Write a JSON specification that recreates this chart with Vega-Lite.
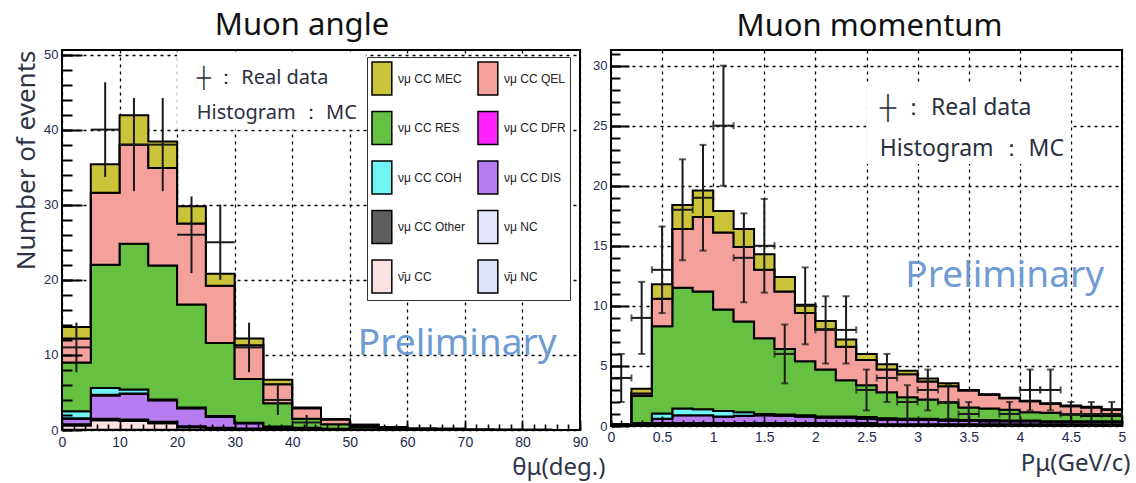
{
  "$schema": "https://vega.github.io/schema/vega-lite/v6.json",
  "padding": {"left": 12, "top": 8, "right": 5, "bottom": 5},
  "bounds": "flush",
  "spacing": 31,
  "config": {
    "view": {"stroke": "black", "strokeWidth": 2},
    "axis": {
      "domain": false,
      "labelFont": "Liberation Sans",
      "labelColor": "#1e2a50",
      "tickColor": "black",
      "tickWidth": 1.6,
      "gridColor": "black",
      "gridDash": [3, 4],
      "gridWidth": 1.3,
      "titleFont": "Noto Sans",
      "titleFontWeight": "normal",
      "titleColor": "#2e3548",
      "labelOverlap": false,
      "labelFlush": false
    }
  },
  "datasets": {
    "angleHist": [
      {"x": 0, "0ν̄μ NC": 0.05, "1ν̄μ CC": 0.55, "2νμ NC": 0.1, "3νμ CC Other": 0.05, "4νμ CC DIS": 0.75, "5νμ CC DFR": 0.05, "6νμ CC COH": 0.95, "7νμ CC RES": 6.5, "8νμ CC QEL": 3.2, "9νμ CC MEC": 1.5},
      {"x": 5, "0ν̄μ NC": 0.05, "1ν̄μ CC": 1.25, "2νμ NC": 0.1, "3νμ CC Other": 0.1, "4νμ CC DIS": 3.1, "5νμ CC DFR": 0.1, "6νμ CC COH": 0.9, "7νμ CC RES": 16.4, "8νμ CC QEL": 9.6, "9νμ CC MEC": 3.8},
      {"x": 10, "0ν̄μ NC": 0.05, "1ν̄μ CC": 1.15, "2νμ NC": 0.1, "3νμ CC Other": 0.1, "4νμ CC DIS": 3.4, "5νμ CC DFR": 0.05, "6νμ CC COH": 0.55, "7νμ CC RES": 19.4, "8νμ CC QEL": 13.2, "9νμ CC MEC": 3.9},
      {"x": 15, "0ν̄μ NC": 0.05, "1ν̄μ CC": 0.85, "2νμ NC": 0.1, "3νμ CC Other": 0.1, "4νμ CC DIS": 2.85, "5νμ CC DFR": 0, "6νμ CC COH": 0.1, "7νμ CC RES": 17.85, "8νμ CC QEL": 13.0, "9νμ CC MEC": 3.5},
      {"x": 20, "0ν̄μ NC": 0.02, "1ν̄μ CC": 0.35, "2νμ NC": 0.08, "3νμ CC Other": 0.05, "4νμ CC DIS": 2.4, "5νμ CC DFR": 0, "6νμ CC COH": 0.1, "7νμ CC RES": 13.7, "8νμ CC QEL": 10.8, "9νμ CC MEC": 2.3},
      {"x": 25, "0ν̄μ NC": 0.02, "1ν̄μ CC": 0.18, "2νμ NC": 0.05, "3νμ CC Other": 0.05, "4νμ CC DIS": 1.45, "5νμ CC DFR": 0, "6νμ CC COH": 0.1, "7νμ CC RES": 9.75, "8νμ CC QEL": 7.6, "9νμ CC MEC": 1.6},
      {"x": 30, "0ν̄μ NC": 0, "1ν̄μ CC": 0.1, "2νμ NC": 0.05, "3νμ CC Other": 0.05, "4νμ CC DIS": 0.7, "5νμ CC DFR": 0, "6νμ CC COH": 0.05, "7νμ CC RES": 5.85, "8νμ CC QEL": 4.5, "9νμ CC MEC": 0.9},
      {"x": 35, "0ν̄μ NC": 0, "1ν̄μ CC": 0.05, "2νμ NC": 0.05, "3νμ CC Other": 0.05, "4νμ CC DIS": 0.25, "5νμ CC DFR": 0, "6νμ CC COH": 0.05, "7νμ CC RES": 3.1, "8νμ CC QEL": 2.55, "9νμ CC MEC": 0.6},
      {"x": 40, "0ν̄μ NC": 0, "1ν̄μ CC": 0.03, "2νμ NC": 0.1, "3νμ CC Other": 0.05, "4νμ CC DIS": 0.1, "5νμ CC DFR": 0, "6νμ CC COH": 0.02, "7νμ CC RES": 1.2, "8νμ CC QEL": 1.4, "9νμ CC MEC": 0.1},
      {"x": 45, "0ν̄μ NC": 0, "1ν̄μ CC": 0.02, "2νμ NC": 0.05, "3νμ CC Other": 0.03, "4νμ CC DIS": 0.05, "5νμ CC DFR": 0, "6νμ CC COH": 0, "7νμ CC RES": 0.6, "8νμ CC QEL": 0.65, "9νμ CC MEC": 0.05},
      {"x": 50, "0ν̄μ NC": 0, "1ν̄μ CC": 0.01, "2νμ NC": 0.04, "3νμ CC Other": 0.02, "4νμ CC DIS": 0.03, "5νμ CC DFR": 0, "6νμ CC COH": 0, "7νμ CC RES": 0.3, "8νμ CC QEL": 0.3, "9νμ CC MEC": 0},
      {"x": 55, "0ν̄μ NC": 0, "1ν̄μ CC": 0, "2νμ NC": 0.03, "3νμ CC Other": 0.01, "4νμ CC DIS": 0.01, "5νμ CC DFR": 0, "6νμ CC COH": 0, "7νμ CC RES": 0.2, "8νμ CC QEL": 0.15, "9νμ CC MEC": 0},
      {"x": 60, "0ν̄μ NC": 0, "1ν̄μ CC": 0, "2νμ NC": 0.02, "3νμ CC Other": 0, "4νμ CC DIS": 0, "5νμ CC DFR": 0, "6νμ CC COH": 0, "7νμ CC RES": 0.1, "8νμ CC QEL": 0.08, "9νμ CC MEC": 0},
      {"x": 65, "0ν̄μ NC": 0, "1ν̄μ CC": 0, "2νμ NC": 0.01, "3νμ CC Other": 0, "4νμ CC DIS": 0, "5νμ CC DFR": 0, "6νμ CC COH": 0, "7νμ CC RES": 0.07, "8νμ CC QEL": 0.07, "9νμ CC MEC": 0},
      {"x": 70, "0ν̄μ NC": 0, "1ν̄μ CC": 0, "2νμ NC": 0, "3νμ CC Other": 0, "4νμ CC DIS": 0, "5νμ CC DFR": 0, "6νμ CC COH": 0, "7νμ CC RES": 0.04, "8νμ CC QEL": 0.04, "9νμ CC MEC": 0},
      {"x": 75, "0ν̄μ NC": 0, "1ν̄μ CC": 0, "2νμ NC": 0, "3νμ CC Other": 0, "4νμ CC DIS": 0, "5νμ CC DFR": 0, "6νμ CC COH": 0, "7νμ CC RES": 0.02, "8νμ CC QEL": 0.02, "9νμ CC MEC": 0},
      {"x": 80, "0ν̄μ NC": 0, "1ν̄μ CC": 0, "2νμ NC": 0, "3νμ CC Other": 0, "4νμ CC DIS": 0, "5νμ CC DFR": 0, "6νμ CC COH": 0, "7νμ CC RES": 0.01, "8νμ CC QEL": 0.01, "9νμ CC MEC": 0},
      {"x": 85, "0ν̄μ NC": 0, "1ν̄μ CC": 0, "2νμ NC": 0, "3νμ CC Other": 0, "4νμ CC DIS": 0, "5νμ CC DFR": 0, "6νμ CC COH": 0, "7νμ CC RES": 0, "8νμ CC QEL": 0, "9νμ CC MEC": 0},
      {"x": 90, "0ν̄μ NC": 0, "1ν̄μ CC": 0, "2νμ NC": 0, "3νμ CC Other": 0, "4νμ CC DIS": 0, "5νμ CC DFR": 0, "6νμ CC COH": 0, "7νμ CC RES": 0, "8νμ CC QEL": 0, "9νμ CC MEC": 0}
    ],
    "angleData": [
      {"c": 2.5, "x0": 0, "x1": 5, "n": 11, "lo": 7.7, "hi": 14.3},
      {"c": 7.5, "x0": 5, "x1": 10, "n": 40, "lo": 33.7, "hi": 46.3},
      {"c": 12.5, "x0": 10, "x1": 15, "n": 38, "lo": 31.8, "hi": 44.2},
      {"c": 17.5, "x0": 15, "x1": 20, "n": 38, "lo": 31.8, "hi": 44.2},
      {"c": 22.5, "x0": 20, "x1": 25, "n": 26, "lo": 20.9, "hi": 31.1},
      {"c": 27.5, "x0": 25, "x1": 30, "n": 25, "lo": 20, "hi": 30},
      {"c": 32.5, "x0": 30, "x1": 35, "n": 11, "lo": 7.7, "hi": 14.3},
      {"c": 37.5, "x0": 35, "x1": 40, "n": 4, "lo": 2, "hi": 6},
      {"c": 42.5, "x0": 40, "x1": 45, "n": 1, "lo": 0, "hi": 2}
    ],
    "momHist": [
      {"x": 0, "0ν̄μ NC": 0, "1ν̄μ CC": 0.02, "2νμ NC": 0.02, "3νμ CC Other": 0.05, "4νμ CC DIS": 0.02, "5νμ CC DFR": 0, "6νμ CC COH": 0, "7νμ CC RES": 0.03, "8νμ CC QEL": 0, "9νμ CC MEC": 0},
      {"x": 0.2, "0ν̄μ NC": 0.01, "1ν̄μ CC": 0.02, "2νμ NC": 0.02, "3νμ CC Other": 0.1, "4νμ CC DIS": 0.05, "5νμ CC DFR": 0, "6νμ CC COH": 0.05, "7νμ CC RES": 2.25, "8νμ CC QEL": 0.2, "9νμ CC MEC": 0.4},
      {"x": 0.4, "0ν̄μ NC": 0.02, "1ν̄μ CC": 0.1, "2νμ NC": 0.08, "3νμ CC Other": 0.05, "4νμ CC DIS": 0.35, "5νμ CC DFR": 0, "6νμ CC COH": 0.45, "7νμ CC RES": 7.25, "8νμ CC QEL": 2.3, "9νμ CC MEC": 1.2},
      {"x": 0.6, "0ν̄μ NC": 0.02, "1ν̄μ CC": 0.1, "2νμ NC": 0.08, "3νμ CC Other": 0.05, "4νμ CC DIS": 0.65, "5νμ CC DFR": 0, "6νμ CC COH": 0.55, "7νμ CC RES": 10.05, "8νμ CC QEL": 4.9, "9νμ CC MEC": 2.0},
      {"x": 0.8, "0ν̄μ NC": 0.02, "1ν̄μ CC": 0.1, "2νμ NC": 0.08, "3νμ CC Other": 0.05, "4νμ CC DIS": 0.65, "5νμ CC DFR": 0, "6νμ CC COH": 0.5, "7νμ CC RES": 9.8, "8νμ CC QEL": 6.2, "9νμ CC MEC": 2.2},
      {"x": 1.0, "0ν̄μ NC": 0.02, "1ν̄μ CC": 0.1, "2νμ NC": 0.08, "3νμ CC Other": 0.05, "4νμ CC DIS": 0.55, "5νμ CC DFR": 0, "6νμ CC COH": 0.45, "7νμ CC RES": 8.45, "8νμ CC QEL": 6.4, "9νμ CC MEC": 1.8},
      {"x": 1.2, "0ν̄μ NC": 0.02, "1ν̄μ CC": 0.1, "2νμ NC": 0.08, "3νμ CC Other": 0.05, "4νμ CC DIS": 0.6, "5νμ CC DFR": 0, "6νμ CC COH": 0.3, "7νμ CC RES": 7.55, "8νμ CC QEL": 6.2, "9νμ CC MEC": 1.5},
      {"x": 1.4, "0ν̄μ NC": 0.02, "1ν̄μ CC": 0.1, "2νμ NC": 0.08, "3νμ CC Other": 0.05, "4νμ CC DIS": 0.65, "5νμ CC DFR": 0, "6νμ CC COH": 0.1, "7νμ CC RES": 6.3, "8νμ CC QEL": 5.7, "9νμ CC MEC": 1.3},
      {"x": 1.6, "0ν̄μ NC": 0.02, "1ν̄μ CC": 0.1, "2νμ NC": 0.08, "3νμ CC Other": 0.05, "4νμ CC DIS": 0.6, "5νμ CC DFR": 0, "6νμ CC COH": 0.1, "7νμ CC RES": 5.45, "8νμ CC QEL": 4.8, "9νμ CC MEC": 1.2},
      {"x": 1.8, "0ν̄μ NC": 0.02, "1ν̄μ CC": 0.1, "2νμ NC": 0.08, "3νμ CC Other": 0.05, "4νμ CC DIS": 0.55, "5νμ CC DFR": 0, "6νμ CC COH": 0.1, "7νμ CC RES": 4.5, "8νμ CC QEL": 4.0, "9νμ CC MEC": 0.7},
      {"x": 2.0, "0ν̄μ NC": 0.02, "1ν̄μ CC": 0.1, "2νμ NC": 0.08, "3νμ CC Other": 0.05, "4νμ CC DIS": 0.45, "5νμ CC DFR": 0, "6νμ CC COH": 0.1, "7νμ CC RES": 3.9, "8νμ CC QEL": 3.35, "9νμ CC MEC": 0.7},
      {"x": 2.2, "0ν̄μ NC": 0.02, "1ν̄μ CC": 0.1, "2νμ NC": 0.08, "3νμ CC Other": 0.05, "4νμ CC DIS": 0.45, "5νμ CC DFR": 0, "6νμ CC COH": 0.1, "7νμ CC RES": 3.0, "8νμ CC QEL": 2.8, "9νμ CC MEC": 0.6},
      {"x": 2.4, "0ν̄μ NC": 0.02, "1ν̄μ CC": 0.1, "2νμ NC": 0.08, "3νμ CC Other": 0.05, "4νμ CC DIS": 0.35, "5νμ CC DFR": 0, "6νμ CC COH": 0.15, "7νμ CC RES": 2.65, "8νμ CC QEL": 2.1, "9νμ CC MEC": 0.5},
      {"x": 2.6, "0ν̄μ NC": 0.01, "1ν̄μ CC": 0.05, "2νμ NC": 0.06, "3νμ CC Other": 0.03, "4νμ CC DIS": 0.4, "5νμ CC DFR": 0, "6νμ CC COH": 0.1, "7νμ CC RES": 2.15, "8νμ CC QEL": 1.9, "9νμ CC MEC": 0.45},
      {"x": 2.8, "0ν̄μ NC": 0.01, "1ν̄μ CC": 0.05, "2νμ NC": 0.06, "3νμ CC Other": 0.03, "4νμ CC DIS": 0.35, "5νμ CC DFR": 0, "6νμ CC COH": 0.1, "7νμ CC RES": 1.8, "8νμ CC QEL": 1.9, "9νμ CC MEC": 0.3},
      {"x": 3.0, "0ν̄μ NC": 0.01, "1ν̄μ CC": 0.05, "2νμ NC": 0.06, "3νμ CC Other": 0.03, "4νμ CC DIS": 0.35, "5νμ CC DFR": 0, "6νμ CC COH": 0.1, "7νμ CC RES": 1.6, "8νμ CC QEL": 1.5, "9νμ CC MEC": 0.25},
      {"x": 3.2, "0ν̄μ NC": 0.01, "1ν̄μ CC": 0.05, "2νμ NC": 0.06, "3νμ CC Other": 0.03, "4νμ CC DIS": 0.3, "5νμ CC DFR": 0, "6νμ CC COH": 0.1, "7νμ CC RES": 1.4, "8νμ CC QEL": 1.35, "9νμ CC MEC": 0.25},
      {"x": 3.4, "0ν̄μ NC": 0.01, "1ν̄μ CC": 0.05, "2νμ NC": 0.06, "3νμ CC Other": 0.03, "4νμ CC DIS": 0.3, "5νμ CC DFR": 0, "6νμ CC COH": 0.05, "7νμ CC RES": 1.05, "8νμ CC QEL": 1.4, "9νμ CC MEC": 0.05},
      {"x": 3.6, "0ν̄μ NC": 0.01, "1ν̄μ CC": 0.05, "2νμ NC": 0.06, "3νμ CC Other": 0.03, "4νμ CC DIS": 0.25, "5νμ CC DFR": 0, "6νμ CC COH": 0.1, "7νμ CC RES": 0.95, "8νμ CC QEL": 1.15, "9νμ CC MEC": 0.05},
      {"x": 3.8, "0ν̄μ NC": 0.01, "1ν̄μ CC": 0.05, "2νμ NC": 0.06, "3νμ CC Other": 0.03, "4νμ CC DIS": 0.25, "5νμ CC DFR": 0, "6νμ CC COH": 0.05, "7νμ CC RES": 0.9, "8νμ CC QEL": 0.95, "9νμ CC MEC": 0.05},
      {"x": 4.0, "0ν̄μ NC": 0.01, "1ν̄μ CC": 0.05, "2νμ NC": 0.06, "3νμ CC Other": 0.03, "4νμ CC DIS": 0.25, "5νμ CC DFR": 0, "6νμ CC COH": 0.05, "7νμ CC RES": 0.7, "8νμ CC QEL": 0.9, "9νμ CC MEC": 0.05},
      {"x": 4.2, "0ν̄μ NC": 0.01, "1ν̄μ CC": 0.05, "2νμ NC": 0.06, "3νμ CC Other": 0.03, "4νμ CC DIS": 0.2, "5νμ CC DFR": 0, "6νμ CC COH": 0.05, "7νμ CC RES": 0.7, "8νμ CC QEL": 0.75, "9νμ CC MEC": 0.05},
      {"x": 4.4, "0ν̄μ NC": 0.01, "1ν̄μ CC": 0.05, "2νμ NC": 0.06, "3νμ CC Other": 0.03, "4νμ CC DIS": 0.2, "5νμ CC DFR": 0, "6νμ CC COH": 0.05, "7νμ CC RES": 0.55, "8νμ CC QEL": 0.7, "9νμ CC MEC": 0.05},
      {"x": 4.6, "0ν̄μ NC": 0.01, "1ν̄μ CC": 0.05, "2νμ NC": 0.06, "3νμ CC Other": 0.03, "4νμ CC DIS": 0.2, "5νμ CC DFR": 0, "6νμ CC COH": 0.05, "7νμ CC RES": 0.45, "8νμ CC QEL": 0.7, "9νμ CC MEC": 0.05},
      {"x": 4.8, "0ν̄μ NC": 0.01, "1ν̄μ CC": 0.05, "2νμ NC": 0.06, "3νμ CC Other": 0.03, "4νμ CC DIS": 0.2, "5νμ CC DFR": 0, "6νμ CC COH": 0.05, "7νμ CC RES": 0.45, "8νμ CC QEL": 0.5, "9νμ CC MEC": 0.05},
      {"x": 5.0, "0ν̄μ NC": 0.01, "1ν̄μ CC": 0.05, "2νμ NC": 0.06, "3νμ CC Other": 0.03, "4νμ CC DIS": 0.2, "5νμ CC DFR": 0, "6νμ CC COH": 0.05, "7νμ CC RES": 0.45, "8νμ CC QEL": 0.5, "9νμ CC MEC": 0.05}
    ],
    "momData": [
      {"c": 0.1, "x0": 0.0, "x1": 0.2, "n": 4, "lo": 2, "hi": 6},
      {"c": 0.3, "x0": 0.2, "x1": 0.4, "n": 9, "lo": 6, "hi": 12},
      {"c": 0.5, "x0": 0.4, "x1": 0.6, "n": 13, "lo": 9.4, "hi": 16.6},
      {"c": 0.7, "x0": 0.6, "x1": 0.8, "n": 18, "lo": 13.8, "hi": 22.2},
      {"c": 0.9, "x0": 0.8, "x1": 1.0, "n": 19, "lo": 14.6, "hi": 23.4},
      {"c": 1.1, "x0": 1.0, "x1": 1.2, "n": 25, "lo": 20, "hi": 30},
      {"c": 1.3, "x0": 1.2, "x1": 1.4, "n": 14, "lo": 10.3, "hi": 17.7},
      {"c": 1.5, "x0": 1.4, "x1": 1.6, "n": 15, "lo": 11.1, "hi": 18.9},
      {"c": 1.7, "x0": 1.6, "x1": 1.8, "n": 6, "lo": 3.55, "hi": 8.45},
      {"c": 1.9, "x0": 1.8, "x1": 2.0, "n": 10, "lo": 6.8, "hi": 13.2},
      {"c": 2.1, "x0": 2.0, "x1": 2.2, "n": 8, "lo": 5.2, "hi": 10.8},
      {"c": 2.3, "x0": 2.2, "x1": 2.4, "n": 8, "lo": 5.2, "hi": 10.8},
      {"c": 2.5, "x0": 2.4, "x1": 2.6, "n": 3, "lo": 1.3, "hi": 4.7},
      {"c": 2.7, "x0": 2.6, "x1": 2.8, "n": 4, "lo": 2, "hi": 6},
      {"c": 2.9, "x0": 2.8, "x1": 3.0, "n": 2, "lo": 0.6, "hi": 3.4},
      {"c": 3.1, "x0": 3.0, "x1": 3.2, "n": 3, "lo": 1.3, "hi": 4.7},
      {"c": 3.3, "x0": 3.2, "x1": 3.4, "n": 2, "lo": 0.6, "hi": 3.4},
      {"c": 3.5, "x0": 3.4, "x1": 3.6, "n": 1, "lo": 0, "hi": 2},
      {"c": 3.9, "x0": 3.8, "x1": 4.0, "n": 1, "lo": 0, "hi": 2},
      {"c": 4.1, "x0": 4.0, "x1": 4.2, "n": 3, "lo": 1.3, "hi": 4.7},
      {"c": 4.3, "x0": 4.2, "x1": 4.4, "n": 3, "lo": 1.3, "hi": 4.7},
      {"c": 4.5, "x0": 4.4, "x1": 4.6, "n": 1, "lo": 0, "hi": 2},
      {"c": 4.7, "x0": 4.6, "x1": 4.8, "n": 1, "lo": 0, "hi": 2},
      {"c": 4.9, "x0": 4.8, "x1": 5.0, "n": 1, "lo": 0, "hi": 2}
    ]
  },
  "resolve": {"scale": {"color": "independent"}, "legend": {"color": "independent"}},
  "hconcat": [
    {
      "width": 518,
      "height": 380,
      "title": {"text": "Muon angle", "font": "Noto Sans", "fontSize": 31, "fontWeight": "normal", "color": "#111111", "offset": -17, "baseline": "alphabetic", "dx": -19},
      "resolve": {"scale": {"x": "independent", "y": "independent"}},
      "layer": [
        {
          "data": {"values": [{}]},
          "mark": {"type": "rect", "fill": "white"},
          "encoding": {
            "x": {"datum": 20, "type": "quantitative", "scale": {"domain": [0, 90], "nice": false, "zero": false},
              "axis": {"orient": "bottom", "values": [0,10,20,30,40,50,60,70,80,90], "grid": true, "ticks": false, "labels": false, "domain": false, "title": null, "zindex": 0}},
            "x2": {"datum": 52.8},
            "y": {"datum": 40, "type": "quantitative", "scale": {"domain": [0, 50.6], "nice": false, "zero": false},
              "axis": {"orient": "left", "values": [0,10,20,30,40,50], "grid": true, "ticks": false, "labels": false, "domain": false, "title": null, "zindex": 0}},
            "y2": {"datum": 50.4}
          }
        },
        {
          "data": {"values": [{}]},
          "mark": {"type": "point", "opacity": 0},
          "encoding": {
            "x": {"datum": 0, "type": "quantitative", "scale": {"domain": [0, 90], "nice": false, "zero": false},
              "axis": {"orient": "bottom", "values": [0,2,4,6,8,10,12,14,16,18,20,22,24,26,28,30,32,34,36,38,40,42,44,46,48,50,52,54,56,58,60,62,64,66,68,70,72,74,76,78,80,82,84,86,88,90], "grid": false, "ticks": true, "tickSize": -6, "tickWidth": 1.6, "labels": false, "domain": false, "title": null, "zindex": 1}},
            "y": {"datum": 0, "type": "quantitative", "scale": {"domain": [0, 50.6], "nice": false, "zero": false},
              "axis": {"orient": "left", "values": [0,2,4,6,8,10,12,14,16,18,20,22,24,26,28,30,32,34,36,38,40,42,44,46,48,50], "grid": false, "ticks": true, "tickSize": -10, "tickWidth": 2, "labels": false, "domain": false, "title": null, "zindex": 1}}
          }
        },
        {
          "layer": [
            {
              "data": {"name": "angleHist"},
              "transform": [{"fold": ["0ν̄μ NC", "1ν̄μ CC", "2νμ NC", "3νμ CC Other", "4νμ CC DIS", "5νμ CC DFR", "6νμ CC COH", "7νμ CC RES", "8νμ CC QEL", "9νμ CC MEC"], "as": ["cat", "v"]}],
              "mark": {"type": "area", "interpolate": "step-after", "stroke": "black", "strokeWidth": 2, "opacity": 1, "fillOpacity": 1},
              "encoding": {
                "x": {
                  "field": "x", "type": "quantitative",
                  "scale": {"domain": [0, 90], "nice": false, "zero": false},
                  "axis": {
                    "orient": "bottom",
                    "values": [0,10,20,30,40,50,60,70,80,90],
                    "format": "~g",
                    "grid": false,
                    "tickSize": -10,
                    "tickWidth": 1.6,
                    "labelPadding": 15,
                    "labelFontSize": 14,
                    "labelOverlap": false,
                    "zindex": 1,
                    "title": "θμ(deg.)",
                    "titleFontSize": 24,
                    "titleAnchor": "end",
                    "titleAlign": "right",
                    "titleBaseline": "alphabetic",
                    "titleX": 543,
                    "titleY": 44
                  }
                },
                "y": {
                  "field": "v", "type": "quantitative", "stack": "zero",
                  "scale": {"domain": [0, 50.6], "nice": false},
                  "axis": {
                    "orient": "left",
                    "values": [0,10,20,30,40,50],
                    "grid": false,
                    "tickSize": -20,
                    "tickWidth": 2,
                    "labelPadding": 24,
                    "labelFontSize": 13,
                    "labelOverlap": false,
                    "zindex": 1,
                    "title": "Number of events",
                    "titleFontSize": 26,
                    "titleAnchor": "end",
                    "titlePadding": 4
                  }
                },
                "color": {
                  "field": "cat", "type": "nominal",
                  "scale": {
                    "domain": ["9νμ CC MEC", "8νμ CC QEL", "7νμ CC RES", "5νμ CC DFR", "6νμ CC COH", "4νμ CC DIS", "3νμ CC Other", "2νμ NC", "1ν̄μ CC", "0ν̄μ NC"],
                    "range": ["#cbc43b", "#f4a19c", "#66c143", "#ff22ff", "#70f5f5", "#b77cf0", "#5e5e5e", "#e4e6fb", "#fbe2e2", "#dfe3fa"]
                  },
                  "legend": {
                    "orient": "none",
                    "legendX": 305,
                    "legendY": 7,
                    "direction": "horizontal",
                    "columns": 2,
                    "title": null,
                    "labelExpr": "substring(datum.label, 1)",
                    "symbolType": "M-1,-1H0.2V1H-1Z",
                    "symbolSize": 1089,
                    "symbolStrokeColor": "black",
                    "symbolStrokeWidth": 1.5,
                    "symbolOpacity": 1,
                    "labelFont": "Liberation Sans",
                    "labelFontSize": 12,
                    "labelColor": "#222222",
                    "labelOffset": -8,
                    "labelLimit": 140,
                    "rowPadding": 10.5,
                    "columnPadding": 10,
                    "padding": 4,
                    "strokeColor": "#333333",
                    "fillColor": "white"
                  }
                },
                "order": {"field": "cat", "sort": "ascending"}
              }
            },
            {
              "data": {"name": "angleData"},
              "mark": {"type": "rule", "color": "#1a1a1a", "strokeWidth": 2},
              "encoding": {
                "x": {"field": "c", "type": "quantitative", "title": "θμ(deg.)"},
                "y": {"field": "lo", "type": "quantitative", "title": "Number of events"},
                "y2": {"field": "hi"}
              }
            },
            {
              "data": {"name": "angleData"},
              "mark": {"type": "rule", "color": "#1a1a1a", "strokeWidth": 2},
              "encoding": {
                "x": {"field": "x0", "type": "quantitative", "title": "θμ(deg.)"},
                "x2": {"field": "x1"},
                "y": {"field": "n", "type": "quantitative", "title": "Number of events"}
              }
            },
            {
              "data": {"values": [{}]},
              "mark": {"type": "text", "text": "┼ ： Real data", "align": "left", "baseline": "alphabetic", "font": "Noto Sans", "fontSize": 20, "color": "#2a3040"},
              "encoding": {"x": {"datum": 23.4, "type": "quantitative"}, "y": {"datum": 46.1, "type": "quantitative"}}
            },
            {
              "data": {"values": [{}]},
              "mark": {"type": "text", "text": "Histogram ： MC", "align": "left", "baseline": "alphabetic", "font": "Noto Sans", "fontSize": 20, "color": "#2a3040"},
              "encoding": {"x": {"datum": 23.4, "type": "quantitative"}, "y": {"datum": 41.4, "type": "quantitative"}}
            },
            {
              "data": {"values": [{}]},
              "mark": {"type": "text", "text": "Preliminary", "align": "left", "baseline": "alphabetic", "font": "Noto Sans", "fontSize": 37, "color": "#6f9bd5"},
              "encoding": {"x": {"datum": 51.4, "type": "quantitative"}, "y": {"datum": 10.0, "type": "quantitative"}}
            }
          ]
        }
      ]
    },
    {
      "width": 511,
      "height": 376,
      "title": {"text": "Muon momentum", "font": "Noto Sans", "fontSize": 31, "fontWeight": "normal", "color": "#111111", "offset": -17, "baseline": "alphabetic", "dx": 3},
      "resolve": {"scale": {"x": "independent", "y": "independent"}},
      "layer": [
        {
          "data": {"values": [{}]},
          "mark": {"type": "rect", "fill": "white"},
          "encoding": {
            "x": {"datum": 2.5, "type": "quantitative", "scale": {"domain": [0, 5], "nice": false, "zero": false},
              "axis": {"orient": "bottom", "values": [0,0.5,1,1.5,2,2.5,3,3.5,4,4.5,5], "grid": true, "ticks": false, "labels": false, "domain": false, "title": null, "zindex": 0}},
            "x2": {"datum": 4.5},
            "y": {"datum": 21.8, "type": "quantitative", "scale": {"domain": [0, 31.3], "nice": false, "zero": false},
              "axis": {"orient": "left", "values": [0,5,10,15,20,25,30], "grid": true, "ticks": false, "labels": false, "domain": false, "title": null, "zindex": 0}},
            "y2": {"datum": 28.4}
          }
        },
        {
          "data": {"values": [{}]},
          "mark": {"type": "point", "opacity": 0},
          "encoding": {
            "x": {"datum": 0, "type": "quantitative", "scale": {"domain": [0, 5], "nice": false, "zero": false},
              "axis": {"orient": "bottom", "values": [0,0.1,0.2,0.3,0.4,0.5,0.6,0.7,0.8,0.9,1,1.1,1.2,1.3,1.4,1.5,1.6,1.7,1.8,1.9,2,2.1,2.2,2.3,2.4,2.5,2.6,2.7,2.8,2.9,3,3.1,3.2,3.3,3.4,3.5,3.6,3.7,3.8,3.9,4,4.1,4.2,4.3,4.4,4.5,4.6,4.7,4.8,4.9,5], "grid": false, "ticks": true, "tickSize": -6, "tickWidth": 1.6, "labels": false, "domain": false, "title": null, "zindex": 1}},
            "y": {"datum": 0, "type": "quantitative", "scale": {"domain": [0, 31.3], "nice": false, "zero": false},
              "axis": {"orient": "left", "values": [0,1,2,3,4,5,6,7,8,9,10,11,12,13,14,15,16,17,18,19,20,21,22,23,24,25,26,27,28,29,30,31], "grid": false, "ticks": true, "tickSize": -9, "tickWidth": 2, "labels": false, "domain": false, "title": null, "zindex": 1}}
          }
        },
        {
          "layer": [
            {
              "data": {"name": "momHist"},
              "transform": [{"fold": ["0ν̄μ NC", "1ν̄μ CC", "2νμ NC", "3νμ CC Other", "4νμ CC DIS", "5νμ CC DFR", "6νμ CC COH", "7νμ CC RES", "8νμ CC QEL", "9νμ CC MEC"], "as": ["cat", "v"]}],
              "mark": {"type": "area", "interpolate": "step-after", "stroke": "black", "strokeWidth": 2, "opacity": 1, "fillOpacity": 1},
              "encoding": {
                "x": {
                  "field": "x", "type": "quantitative",
                  "scale": {"domain": [0, 5], "nice": false, "zero": false},
                  "axis": {
                    "orient": "bottom",
                    "values": [0,0.5,1,1.5,2,2.5,3,3.5,4,4.5,5],
                    "format": "~g",
                    "grid": false,
                    "tickSize": -10,
                    "tickWidth": 1.6,
                    "labelPadding": 14,
                    "labelFontSize": 14,
                    "labelOverlap": false,
                    "zindex": 1,
                    "title": "Pμ(GeV/c)",
                    "titleFontSize": 24,
                    "titleAnchor": "end",
                    "titleAlign": "right",
                    "titleBaseline": "alphabetic",
                    "titleX": 519,
                    "titleY": 44
                  }
                },
                "y": {
                  "field": "v", "type": "quantitative", "stack": "zero",
                  "scale": {"domain": [0, 31.3], "nice": false},
                  "axis": {
                    "orient": "left",
                    "values": [0,5,10,15,20,25,30],
                    "grid": false,
                    "tickSize": -18,
                    "tickWidth": 2,
                    "labelPadding": 22,
                    "labelFontSize": 13,
                    "labelOverlap": false,
                    "zindex": 1,
                    "title": null
                  }
                },
                "color": {
                  "field": "cat", "type": "nominal",
                  "scale": {
                    "domain": ["9νμ CC MEC", "8νμ CC QEL", "7νμ CC RES", "5νμ CC DFR", "6νμ CC COH", "4νμ CC DIS", "3νμ CC Other", "2νμ NC", "1ν̄μ CC", "0ν̄μ NC"],
                    "range": ["#cbc43b", "#f4a19c", "#66c143", "#ff22ff", "#70f5f5", "#b77cf0", "#5e5e5e", "#e4e6fb", "#fbe2e2", "#dfe3fa"]
                  },
                  "legend": null
                },
                "order": {"field": "cat", "sort": "ascending"}
              }
            },
            {
              "data": {"name": "momData"},
              "mark": {"type": "errorbar", "orient": "vertical", "ticks": {"size": 7, "thickness": 2, "color": "#1a1a1a"}, "rule": {"strokeWidth": 2, "color": "#1a1a1a"}},
              "encoding": {
                "x": {"field": "c", "type": "quantitative", "title": "Pμ(GeV/c)"},
                "y": {"field": "lo", "type": "quantitative", "title": null},
                "y2": {"field": "hi"}
              }
            },
            {
              "data": {"name": "momData"},
              "mark": {"type": "errorbar", "orient": "horizontal", "ticks": {"size": 7, "thickness": 2, "color": "#1a1a1a"}, "rule": {"strokeWidth": 2, "color": "#1a1a1a"}},
              "encoding": {
                "x": {"field": "x0", "type": "quantitative", "title": "Pμ(GeV/c)"},
                "x2": {"field": "x1"},
                "y": {"field": "n", "type": "quantitative", "title": null}
              }
            },
            {
              "data": {"values": [{}]},
              "mark": {"type": "text", "text": "┼ ： Real data", "align": "left", "baseline": "alphabetic", "font": "Noto Sans", "fontSize": 23, "color": "#2a3040"},
              "encoding": {"x": {"datum": 2.63, "type": "quantitative"}, "y": {"datum": 25.9, "type": "quantitative"}}
            },
            {
              "data": {"values": [{}]},
              "mark": {"type": "text", "text": "Histogram ： MC", "align": "left", "baseline": "alphabetic", "font": "Noto Sans", "fontSize": 23, "color": "#2a3040"},
              "encoding": {"x": {"datum": 2.63, "type": "quantitative"}, "y": {"datum": 22.5, "type": "quantitative"}}
            },
            {
              "data": {"values": [{}]},
              "mark": {"type": "text", "text": "Preliminary", "align": "left", "baseline": "alphabetic", "font": "Noto Sans", "fontSize": 37, "color": "#6f9bd5"},
              "encoding": {"x": {"datum": 2.88, "type": "quantitative"}, "y": {"datum": 11.6, "type": "quantitative"}}
            }
          ]
        }
      ]
    }
  ]
}
